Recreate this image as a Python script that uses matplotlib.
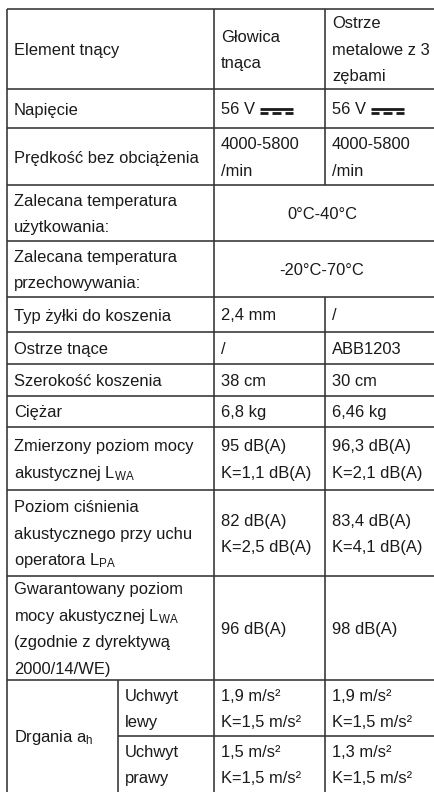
import matplotlib
matplotlib.use("Agg")
import matplotlib.pyplot as plt

plt.rcParams['font.family'] = ['Liberation Sans', 'DejaVu Sans']
plt.rcParams['mathtext.fontset'] = 'custom'
plt.rcParams['mathtext.rm'] = 'Liberation Sans'
plt.rcParams['mathtext.it'] = 'Liberation Sans:italic'

# table content
row_labels = [
    "Element tnący",
    "Napięcie",
    "Prędkość bez obciążenia",
    "Zalecana temperatura\nużytkowania:",
    "Zalecana temperatura\nprzechowywania:",
    "Typ żyłki do koszenia",
    "Ostrze tnące",
    "Szerokość koszenia",
    "Ciężar",
    "Zmierzony poziom mocy\nakustycznej L$_{\\mathrm{WA}}$",
    "Poziom ciśnienia\nakustycznego przy uchu\noperatora L$_{\\mathrm{PA}}$",
    "Gwarantowany poziom\nmocy akustycznej L$_{\\mathrm{WA}}$\n(zgodnie z dyrektywą\n2000/14/WE)",
]
glowica = ["Głowica\ntnąca", "56 V", "4000-5800\n/min", "0°C-40°C", "-20°C-70°C",
           "2,4 mm", "/", "38 cm", "6,8 kg", "95 dB(A)\nK=1,1 dB(A)",
           "82 dB(A)\nK=2,5 dB(A)", "96 dB(A)"]
ostrze = ["Ostrze\nmetalowe z 3\nzębami", "56 V", "4000-5800\n/min", "0°C-40°C", "-20°C-70°C",
          "/", "ABB1203", "30 cm", "6,46 kg", "96,3 dB(A)\nK=2,1 dB(A)",
          "83,4 dB(A)\nK=4,1 dB(A)", "98 dB(A)"]
merged_rows = [3, 4]
dc_row = 1  # row with the direct-current sign after the voltage

vib_label = "Drgania a$_{\\mathrm{h}}$"
vib_handles = ["Uchwyt\nlewy", "Uchwyt\nprawy"]
vib_glowica = ["1,9 m/s²\nK=1,5 m/s²", "1,5 m/s²\nK=1,5 m/s²"]
vib_ostrze = ["1,9 m/s²\nK=1,5 m/s²", "1,3 m/s²\nK=1,5 m/s²"]

# layout (pixels)
W, H = 434, 792
xs = [7, 214, 325, 434]
x_sub = 118
ys = [9, 89, 128, 185, 241, 297, 332, 364, 396, 427, 490, 576, 680, 792]
y_sub = 736
pad = 7
fs = 11.9
step = 26.5
half_cap = 6.0
lc = '#333333'
lw = 1.15
tc = '#1a1a1a'

fig = plt.figure(figsize=(W / 100, H / 100), dpi=100)
ax = fig.add_axes([0, 0, 1, 1])
ax.set_xlim(0, W)
ax.set_ylim(H, 0)
ax.axis('off')


def cell(x, yc, s, ha='left'):
    lines = s.split('\n')
    n = len(lines)
    out = []
    for k, line in enumerate(lines):
        yb = yc + (k - (n - 1) / 2) * step + half_cap
        out.append(ax.text(x, yb, line, fontsize=fs, ha=ha, va='baseline', color=tc))
    return out


def dc_sign(t):
    # direct current sign: solid bar over three dashes
    r = fig.canvas.get_renderer()
    bb = t.get_window_extent(r)
    x0 = bb.x1 + 5
    yb = H - bb.y0
    wdt = 33
    ax.plot([x0, x0 + wdt], [yb - 9, yb - 9], color=tc, lw=2.0, solid_capstyle='butt')
    gap = 4
    d = (wdt - 2 * gap) / 3
    for k in range(3):
        a = x0 + k * (d + gap)
        ax.plot([a, a + d], [yb - 4.5, yb - 4.5], color=tc, lw=2.0, solid_capstyle='butt')


# grid lines
for y in ys[:-1]:
    ax.hlines(y, xs[0], W, color=lc, lw=lw)
ax.hlines(y_sub, x_sub, W, color=lc, lw=lw)
ax.vlines(xs[0], ys[0], H, color=lc, lw=lw)
ax.vlines(xs[1], ys[0], H, color=lc, lw=lw)
for i in range(len(row_labels)):
    if i in merged_rows:
        continue
    ax.vlines(xs[2], ys[i], ys[i + 1], color=lc, lw=lw)
ax.vlines(xs[2], ys[-2], H, color=lc, lw=lw)
ax.vlines(x_sub, ys[-2], H, color=lc, lw=lw)

# text
for i, lab in enumerate(row_labels):
    yc = (ys[i] + ys[i + 1]) / 2
    cell(xs[0] + pad, yc, lab)
    if i in merged_rows:
        cell((xs[1] + W) / 2 - 2, yc, glowica[i], ha='center')
    else:
        ta = cell(xs[1] + pad, yc, glowica[i])
        tb = cell(xs[2] + pad, yc, ostrze[i])
        if i == dc_row:
            dc_sign(ta[0])
            dc_sign(tb[0])

cell(xs[0] + pad, (ys[-2] + ys[-1]) / 2, vib_label)
sub_rows = [(ys[-2], y_sub), (y_sub, ys[-1])]
for j, (a, b) in enumerate(sub_rows):
    yc = (a + b) / 2
    cell(x_sub + pad, yc, vib_handles[j])
    cell(xs[1] + pad, yc, vib_glowica[j])
    cell(xs[2] + pad, yc, vib_ostrze[j])

fig.savefig('out.png', dpi=100, facecolor='white')
